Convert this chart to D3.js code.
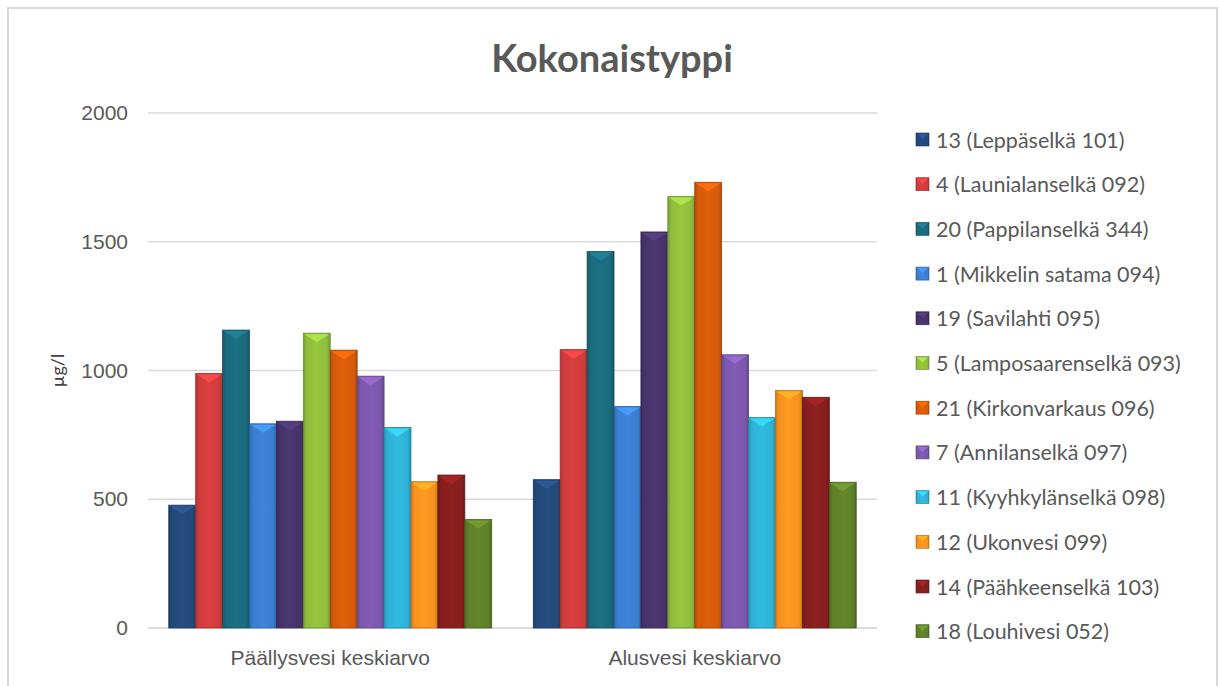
<!DOCTYPE html>
<html>
<head>
<meta charset="utf-8">
<script src="https://cdn.jsdelivr.net/npm/d3@7"></script>
<style>
  body { margin: 0; background: #fff; }
  svg { display: block; font-family: Lato, "Open Sans", sans-serif; }
</style>
</head>
<body>
<div id="main"></div>
<script>
// data
const categories = ['Päällysvesi keskiarvo', 'Alusvesi keskiarvo'];
const stations = [
  '13 (Leppäselkä 101)', '4 (Launialanselkä 092)', '20 (Pappilanselkä 344)',
  '1 (Mikkelin satama 094)', '19 (Savilahti 095)', '5 (Lamposaarenselkä 093)',
  '21 (Kirkonvarkaus 096)', '7 (Annilanselkä 097)', '11 (Kyyhkylänselkä 098)',
  '12 (Ukonvesi 099)', '14 (Päähkeenselkä 103)', '18 (Louhivesi 052)'
];
const surfaceValues = [477, 988, 1157, 793, 803, 1145, 1079, 978, 779, 568, 594, 421];
const bottomValues = [576, 1081, 1462, 860, 1538, 1676, 1731, 1061, 817, 922, 896, 566];
const yTicks = [0, 500, 1000, 1500, 2000];
const colors = ['#24497a', '#cf3c3c', '#1a6a7c', '#3b7ed0', '#47336a', '#8fbc3d',
  '#d45a0a', '#7c57ac', '#2eb1d4', '#f6911f', '#861e1e', '#5e8029'];

const width = 1219;
const height = 686;
const margin = { left: 148, right: 342, top: 113, bottom: 58 }; // plot box 148..877, 113..628

const svg = d3.select('#main')
  .append('svg')
  .attr('width', width)
  .attr('height', height);

const defs = svg.append('defs');
// horizontal shading per colour, darker at the edges like Excel's bevel
colors.forEach((c, i) => {
  const g = defs.append('linearGradient')
    .attr('id', `grad_${i}`)
    .attr('x1', '0').attr('x2', '1').attr('y1', '0').attr('y2', '0');
  g.append('stop').attr('offset', '0%').attr('stop-color', d3.color(c).darker(0.5));
  g.append('stop').attr('offset', '12%').attr('stop-color', c);
  g.append('stop').attr('offset', '50%').attr('stop-color', d3.color(c).brighter(0.15));
  g.append('stop').attr('offset', '88%').attr('stop-color', c);
  g.append('stop').attr('offset', '100%').attr('stop-color', d3.color(c).darker(0.6));
});

// chart frame
svg.append('rect')
  .attr('x', 8).attr('y', 8)
  .attr('width', 1209).attr('height', 700)
  .attr('fill', '#fff')
  .attr('stroke', '#d9d9d9')
  .attr('stroke-width', 2);

const x0 = d3.scaleBand()
  .domain(categories)
  .range([margin.left, width - margin.right])
  .paddingInner(0.114)
  .paddingOuter(0.057);

const x1 = d3.scaleBand()
  .domain(stations)
  .range([0, x0.bandwidth()]);

const y = d3.scaleLinear()
  .domain([0, 2000])
  .range([height - margin.bottom, margin.top]);

// gridlines
svg.append('g')
  .selectAll('line')
  .data(yTicks)
  .enter()
  .append('line')
  .attr('x1', margin.left)
  .attr('x2', width - margin.right)
  .attr('y1', d => y(d))
  .attr('y2', d => y(d))
  .attr('stroke', '#d9d9d9')
  .attr('stroke-width', 1.5);

// y axis labels
const yAxis = svg.append('g')
  .attr('transform', `translate(${margin.left - 20},0)`)
  .call(d3.axisLeft(y).tickValues(yTicks).tickFormat(d3.format('d')).tickSize(0).tickPadding(0));
yAxis.select('.domain').remove();
yAxis.selectAll('text')
  .attr('fill', '#595959')
  .style('font-size', '21px');

svg.append('text')
  .attr('transform', `translate(64,${y(1000)}) rotate(-90)`)
  .attr('text-anchor', 'middle')
  .attr('fill', '#404040')
  .style('font-size', '18px')
  .text('µg/l');

// x axis labels
const xAxis = svg.append('g')
  .attr('transform', `translate(0,${height - margin.bottom})`)
  .call(d3.axisBottom(x0).tickSize(0).tickPadding(22));
xAxis.select('.domain')
  .attr('stroke', '#d9d9d9')
  .attr('stroke-width', 1.5)
  .attr('d', `M${margin.left},0H${width - margin.right}`);
xAxis.selectAll('text')
  .attr('fill', '#595959')
  .style('font-size', '21px');

// bars
const series = [surfaceValues, bottomValues];
const groups = svg.append('g')
  .selectAll('g')
  .data(categories)
  .enter()
  .append('g')
  .attr('transform', d => `translate(${x0(d)},0)`);

const bars = groups.selectAll('g')
  .data((c, ci) => stations.map((s, i) => ({ s, i, v: series[ci][i] })))
  .enter()
  .append('g');

bars.append('rect')
  .attr('x', d => x1(d.s))
  .attr('y', d => y(d.v))
  .attr('width', x1.bandwidth())
  .attr('height', d => y(0) - y(d.v))
  .attr('fill', d => `url(#grad_${d.i})`)
  .attr('stroke', d => d3.color(colors[d.i]).darker(0.8))
  .attr('stroke-width', 0.8);

// top bevel highlight
bars.append('path')
  .attr('d', d => {
    const xa = x1(d.s) + 1;
    const xb = x1(d.s) + x1.bandwidth() - 1;
    const yt = y(d.v) + 1;
    return `M${xa},${yt}L${xb},${yt}L${(xa + xb) / 2},${yt + 8}Z`;
  })
  .attr('fill', d => d3.color(colors[d.i]).brighter(0.6))
  .attr('opacity', 0.9);

// title
svg.append('text')
  .attr('x', 612)
  .attr('y', 72)
  .attr('text-anchor', 'middle')
  .attr('fill', '#595959')
  .style('font-size', '38px')
  .style('font-weight', 'bold')
  .text('Kokonaistyppi');

// legend
const legend = svg.append('g')
  .selectAll('g')
  .data(stations)
  .enter()
  .append('g')
  .attr('transform', (d, i) => `translate(916,${140 + i * 44.7})`);

legend.append('rect')
  .attr('x', 0)
  .attr('y', -7)
  .attr('width', 13)
  .attr('height', 13)
  .attr('fill', (d, i) => `url(#grad_${i})`)
  .attr('stroke', (d, i) => d3.color(colors[i]).darker(0.8))
  .attr('stroke-width', 0.6);

legend.append('path')
  .attr('d', 'M1,-6L12,-6L6.5,-1Z')
  .attr('fill', (d, i) => d3.color(colors[i]).brighter(0.6));

legend.append('text')
  .attr('x', 20)
  .attr('y', 0)
  .attr('dy', '0.35em')
  .attr('fill', '#595959')
  .style('font-size', '21.5px')
  .text(d => d);
</script>
</body>
</html>
